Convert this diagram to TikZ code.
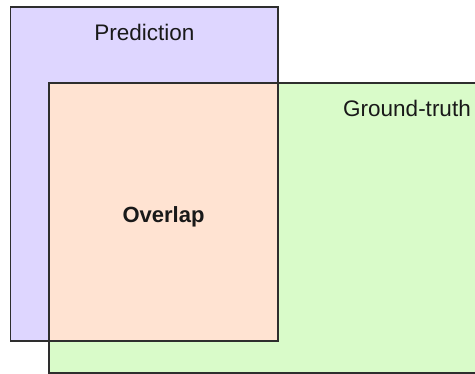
\documentclass[tikz,border=0pt]{standalone}
\usepackage{fontspec}
\setmainfont{Liberation Sans}
\definecolor{predfill}{HTML}{DED6FF}
\definecolor{gtfill}{HTML}{D9FBC9}
\definecolor{ovfill}{HTML}{FFE3D2}
\definecolor{edge}{HTML}{2E2E2E}
\tikzset{
  region/.style={draw=edge, line width=1.3pt, inner sep=0pt, outer sep=0pt, anchor=south west},
  lbl/.style={anchor=base, inner sep=0pt, font=\fontsize{22.5}{27}\selectfont, text=black!90}
}
\begin{document}
\begin{tikzpicture}[x=1pt,y=1pt]
\useasboundingbox (0,0) rectangle (475,374);
\fill[predfill] (10.5,33) rectangle (278,367);
\fill[gtfill] (49,1) rectangle (490,291);
\fill[ovfill] (49,33) rectangle (278,291);
\node[region, minimum width=267.5pt, minimum height=334pt] (pred) at (10.5,33) {};
\node[region, minimum width=441pt, minimum height=290pt] (gt) at (49,1) {};
\node[lbl] (predlbl) at (144.5,333) {Prediction};
\node[lbl] (gtlbl) at (407,257) {Ground-truth};
\node[lbl, font=\fontsize{22}{26}\selectfont\bfseries] (ovlbl) at (163.5,151) {Overlap};
\end{tikzpicture}
\end{document}
